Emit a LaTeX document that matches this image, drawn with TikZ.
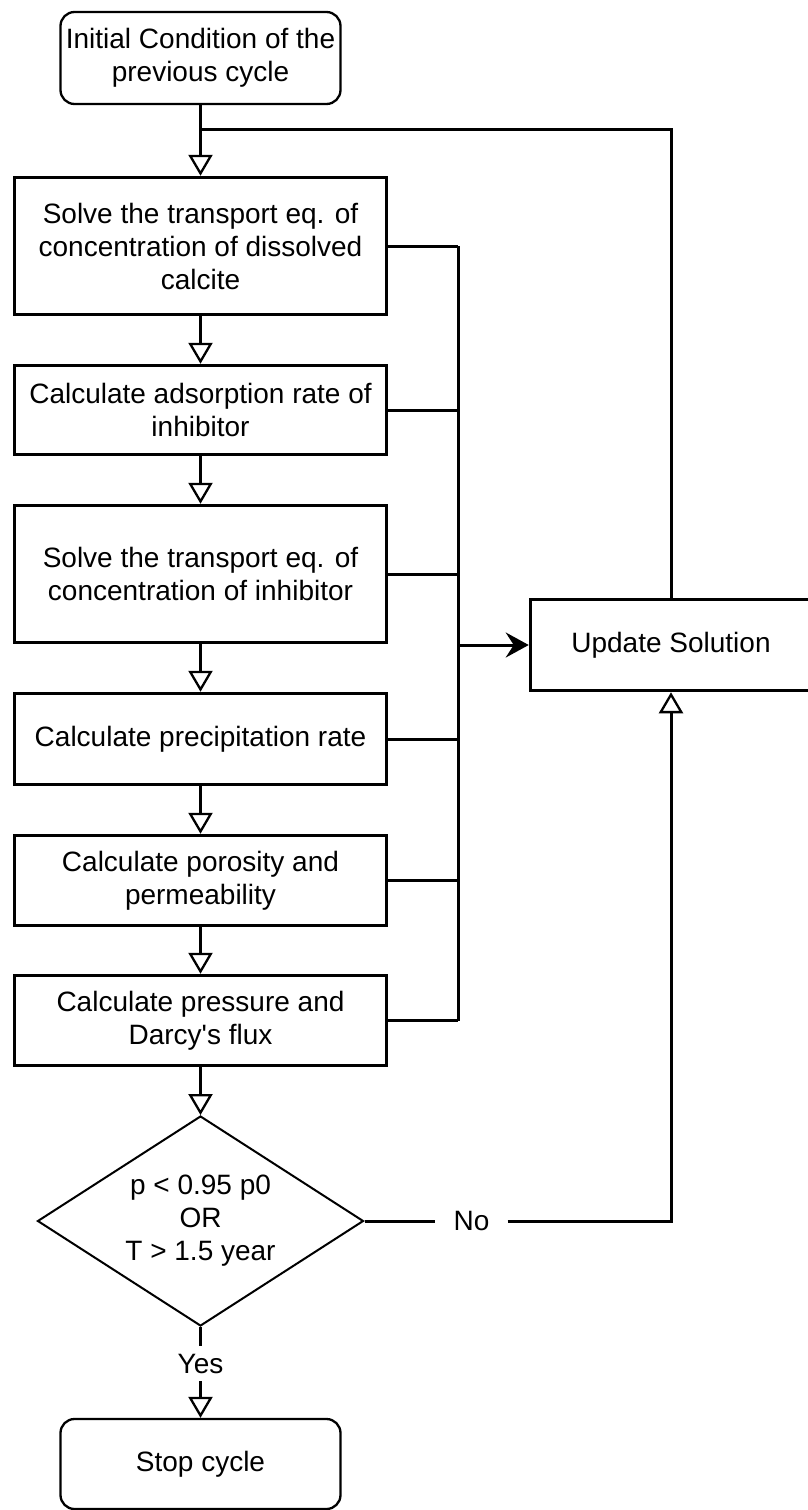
\documentclass[tikz,border=0pt]{standalone}
\usepackage{fontspec}
\setmainfont{Liberation Sans}[Ligatures=TeXOff]
\usetikzlibrary{arrows.meta,shapes.geometric}
\begin{document}
\begin{tikzpicture}[x=1pt,y=-1pt,
  every node/.style={font=\fontsize{28}{33}\selectfont, align=center, inner sep=0pt},
  procbox/.style={draw, line width=3.5pt, minimum width=372pt},
  roundbox/.style={draw, line width=2.3pt, rounded corners=14pt, minimum width=280pt, minimum height=92pt},
  decision/.style={draw, diamond, line width=2pt, aspect=1.55, minimum width=326pt, minimum height=210pt},
  conn/.style={line width=3pt},
  oarrow/.style={conn, -{Triangle[open, length=21pt, width=24pt, line width=2.3pt]}},
  farrow/.style={conn, -{Stealth[length=23pt, width=25pt, inset=8pt]}},
  lbl/.style={inner xsep=18pt, minimum height=35pt}
]
\useasboundingbox (0,0) rectangle (808,1510);

\node[roundbox] (init) at (200.5,58) {Initial Condition of the\\previous cycle};
\node[procbox, minimum height=137pt] (b1) at (200.5,246) {Solve the transport eq. of\\concentration of dissolved\\calcite};
\node[procbox, minimum height=89pt] (b2) at (200.5,410) {Calculate adsorption rate of\\inhibitor};
\node[procbox, minimum height=137pt] (b3) at (200.5,574) {Solve the transport eq. of\\concentration of inhibitor};
\node[procbox, minimum height=91pt] (b4) at (200.5,739) {Calculate precipitation rate};
\node[procbox, minimum height=90pt] (b5) at (200.5,880.5) {Calculate porosity and\\permeability};
\node[procbox, minimum height=90pt] (b6) at (200.5,1020.5) {Calculate pressure and\\Darcy's flux};
\node[decision] (dia) at (200.5,1221) {p < 0.95 p0\\OR\\T > 1.5 year};
\node[roundbox, minimum height=90pt] (stop) at (200.5,1464) {Stop cycle};
\node[procbox, minimum width=281pt, minimum height=91pt] (upd) at (671,645) {Update Solution};

\node[lbl] (no) at (471.5,1221) {No};
\node[lbl] (yes) at (200.5,1363.5) {Yes};

\coordinate (j1) at (200.5,129);
\coordinate (busx) at (458,0);

% main flow
\draw[oarrow] (init.south) -- (b1.north);
\draw[oarrow] (b1.south) -- (b2.north);
\draw[oarrow] (b2.south) -- (b3.north);
\draw[oarrow] (b3.south) -- (b4.north);
\draw[oarrow] (b4.south) -- (b5.north);
\draw[oarrow] (b5.south) -- (b6.north);
\draw[oarrow] (b6.south) -- (dia.north);

% loop back from update
\draw[conn] (upd.north) |- (j1);

% bus
\draw[conn] (b1.east) -- (b1.east -| busx);
\draw[conn] (b2.east) -- (b2.east -| busx);
\draw[conn] (b3.east) -- (b3.east -| busx);
\draw[conn] (b4.east) -- (b4.east -| busx);
\draw[conn] (b5.east) -- (b5.east -| busx);
\draw[conn] (b6.east) -- (b6.east -| busx);
\draw[conn] (b1.east -| busx) -- (b6.east -| busx);
\draw[farrow] (upd.west -| busx) -- (upd.west);

% decision
\draw[conn] (dia.east) -- (no.west);
\draw[oarrow] (no.east) -| (upd.south);
\draw[conn] (dia.south) -- (yes.north);
\draw[oarrow] (yes.south) -- (stop.north);
\end{tikzpicture}
\end{document}
